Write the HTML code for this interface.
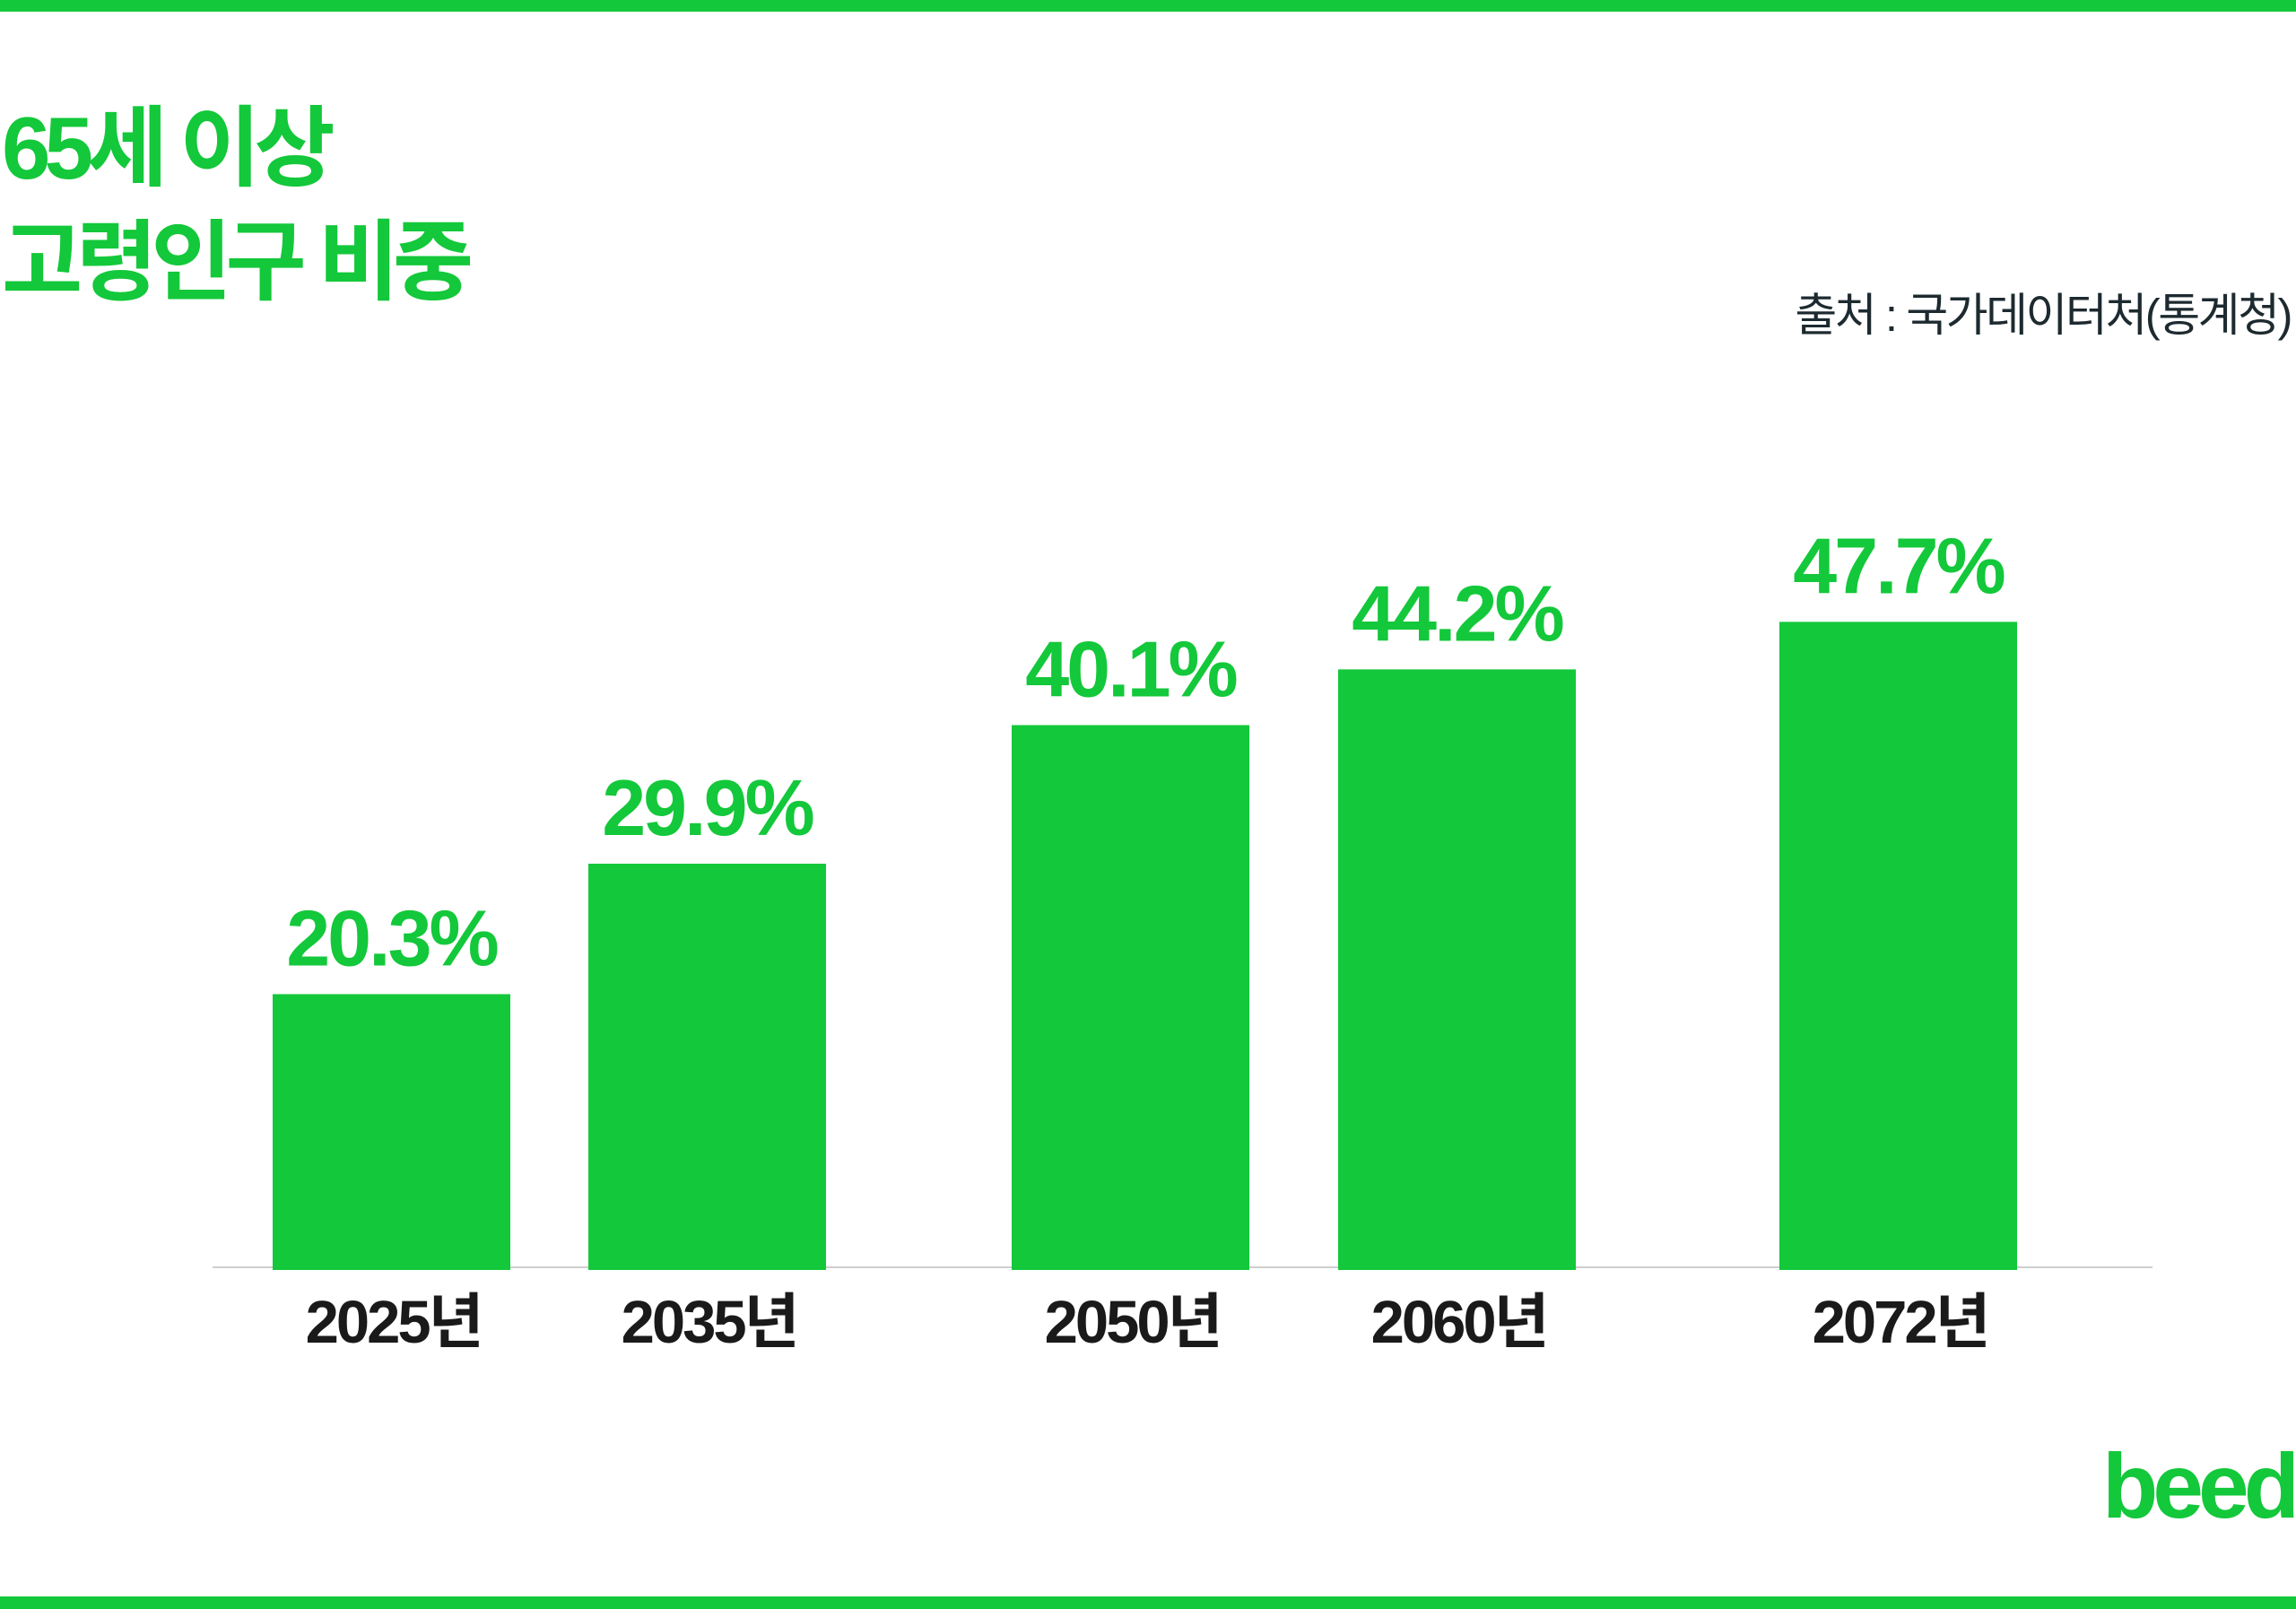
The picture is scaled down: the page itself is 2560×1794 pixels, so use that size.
<!DOCTYPE html>
<html><head><meta charset="utf-8">
<style>
html,body{margin:0;padding:0;background:#fff;}
body{width:2560px;height:1794px;position:relative;overflow:hidden;font-family:"Liberation Sans","Noto Sans CJK KR",sans-serif;}
.bar-top{position:absolute;left:0;top:0;width:2560px;height:13px;background:#13c83a;}
.bar-bottom{position:absolute;left:0;top:1780px;width:2560px;height:14px;background:#13c83a;}
.title{position:absolute;left:2px;color:#13c83a;font-weight:bold;font-size:98px;letter-spacing:-7px;white-space:nowrap;line-height:1;}
.source{position:absolute;right:6px;top:326px;font-size:51px;color:#1d2a30;white-space:nowrap;line-height:1;letter-spacing:-2.5px;}
.logo{position:absolute;left:2344px;top:1606px;font-size:102px;font-weight:bold;color:#13c83a;letter-spacing:-6px;line-height:1;white-space:nowrap;}
</style></head>
<body>
<div class="bar-top"></div>
<div class="title" style="top:116px">65세 이상</div>
<div class="title" style="top:243px">고령인구 비중</div>
<div class="source">출처 : 국가데이터처(통계청)</div>
<svg id="chart" width="2560" height="1794" style="position:absolute;left:0;top:0"></svg>
<div class="logo">beed</div>
<div class="bar-bottom"></div>
<script>
const categories = ["2025년","2035년","2050년","2060년","2072년"];
const values = [20.3, 29.9, 40.1, 44.2, 47.7];
const valueLabels = ["20.3%","29.9%","40.1%","44.2%","47.7%"];
const barLefts = [304, 656, 1128, 1492, 1984];
const ns = "http://www.w3.org/2000/svg";
const svg = document.getElementById('chart');
const baseY = 1416, pxPerUnit = 15.15, barW = 265;
function yScale(v){ return baseY - v * pxPerUnit; }
const axis = document.createElementNS(ns,'line');
axis.setAttribute('x1',237); axis.setAttribute('x2',2400);
axis.setAttribute('y1',1413); axis.setAttribute('y2',1413);
axis.setAttribute('stroke','#cfcfcf'); axis.setAttribute('stroke-width','2');


svg.appendChild(axis);
values.forEach((v,i)=>{
  const x = barLefts[i];
  const top = yScale(v);
  const r = document.createElementNS(ns,'rect');
  r.setAttribute('x',x); r.setAttribute('y',top);
  r.setAttribute('width',barW); r.setAttribute('height',baseY-top);
  r.setAttribute('fill','#13c83a');
  
  
  svg.appendChild(r);
  const t = document.createElementNS(ns,'text');
  t.setAttribute('x',x+barW/2); t.setAttribute('y',top-32);
  t.setAttribute('text-anchor','middle');
  t.setAttribute('font-family','"Liberation Sans", sans-serif');
  t.setAttribute('font-weight','bold'); t.setAttribute('font-size','88');
  t.setAttribute('letter-spacing','-3');
  t.setAttribute('fill','#13c83a');
  t.textContent = valueLabels[i];
  
  
  svg.appendChild(t);
  const c = document.createElementNS(ns,'text');
  c.setAttribute('x',x+barW/2+2); c.setAttribute('y',1497);
  c.setAttribute('text-anchor','middle');
  c.setAttribute('font-family','"Liberation Sans", "Noto Sans CJK KR", sans-serif');
  c.setAttribute('font-weight','bold'); c.setAttribute('font-size','67');
  c.setAttribute('letter-spacing','-3');
  c.setAttribute('fill','#1a1a1a');
  c.textContent = categories[i];
  
  
  svg.appendChild(c);
});
</script>
</body></html>
